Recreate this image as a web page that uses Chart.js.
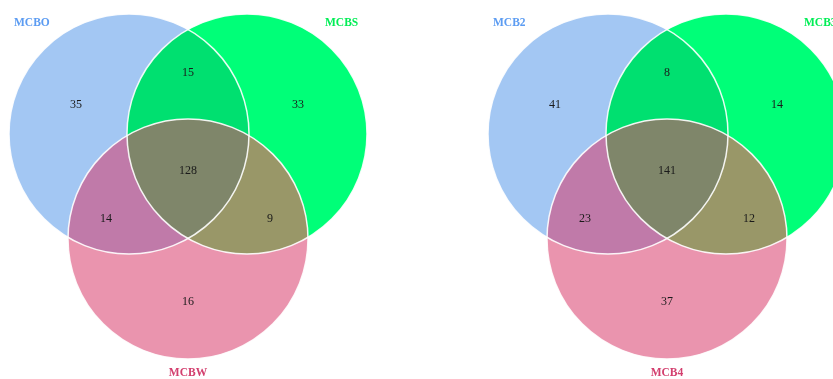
<!DOCTYPE html>
<html>
<head>
<meta charset="utf-8">
<script src="https://cdn.jsdelivr.net/npm/chart.js@4/dist/chart.umd.min.js"></script>
<style>
  html, body { margin: 0; padding: 0; background: #fff; }
  #wrap { width: 833px; height: 379px; }
</style>
</head>
<body>
<div id="wrap"><canvas id="venn"></canvas></div>
<script>
// set names for each three-way diagram
const leftSets = ["MCBO", "MCBS", "MCBW"];
const rightSets = ["MCB2", "MCB3", "MCB4"];

// region order: A only, B only, C only, A&B, A&C, B&C, A&B&C
const regionKeys = ["a", "b", "c", "ab", "ac", "bc", "abc"];
const leftCounts = [35, 33, 16, 15, 14, 9, 128];
const rightCounts = [41, 14, 37, 8, 23, 12, 141];

// diagram geometry, in axis units relative to each panel's middle
const panelX = [188, 667];
const circleR = 120;
const circles = {
  a: { dx: -59, y: 134 },
  b: { dx: 59, y: 134 },
  c: { dx: 0, y: 239 }
};
const anchors = {
  a: { dx: -112, y: 105 },
  b: { dx: 110, y: 105 },
  c: { dx: 0, y: 302 },
  ab: { dx: 0, y: 73 },
  ac: { dx: -82, y: 219 },
  bc: { dx: 82, y: 219 },
  abc: { dx: 0, y: 171 }
};
const nameSpots = [
  { dx: -174, y: 23, align: "left" },
  { dx: 137, y: 23, align: "left" },
  { dx: 0, y: 373, align: "center" }
];

const fills = {
  a: "#a3c7f3",
  b: "#00ff78",
  c: "#ea94ae",
  ab: "#00e070",
  ac: "#c07aa9",
  bc: "#999768",
  abc: "#7f866a"
};
const nameColors = ["#5c9cf2", "#00ee55", "#d3406f"];

const panels = [
  { sets: leftSets, counts: leftCounts },
  { sets: rightSets, counts: rightCounts }
];

function buildDataset(panel, i) {
  return {
    label: panel.sets.join(" / "),
    data: regionKeys.map((k, j) => ({
      x: panelX[i] + anchors[k].dx,
      y: anchors[k].y,
      v: panel.counts[j]
    })),
    pointRadius: 0,
    pointHoverRadius: 0
  };
}

function circlePath(ctx, c) {
  ctx.beginPath();
  ctx.arc(c.x, c.y, c.r, 0, Math.PI * 2);
}

function fillOverlap(ctx, list, color) {
  ctx.save();
  for (let n = 0; n < list.length - 1; n++) {
    circlePath(ctx, list[n]);
    ctx.clip();
  }
  circlePath(ctx, list[list.length - 1]);
  ctx.fillStyle = color;
  ctx.fill();
  ctx.restore();
}

const vennCircles = {
  id: "vennCircles",
  beforeDatasetsDraw(chart) {
    const { ctx, scales } = chart;
    const xs = scales.x, ys = scales.y;
    panelX.forEach(px => {
      const rPix = xs.getPixelForValue(px + circleR) - xs.getPixelForValue(px);
      const c = {};
      Object.keys(circles).forEach(k => {
        c[k] = {
          x: xs.getPixelForValue(px + circles[k].dx),
          y: ys.getPixelForValue(circles[k].y),
          r: rPix
        };
      });
      ctx.save();
      ["a", "b", "c"].forEach(k => {
        circlePath(ctx, c[k]);
        ctx.fillStyle = fills[k];
        ctx.fill();
      });
      fillOverlap(ctx, [c.a, c.b], fills.ab);
      fillOverlap(ctx, [c.a, c.c], fills.ac);
      fillOverlap(ctx, [c.b, c.c], fills.bc);
      fillOverlap(ctx, [c.a, c.b, c.c], fills.abc);
      ctx.lineWidth = 1.5;
      ctx.strokeStyle = "rgba(255,255,255,0.9)";
      ["a", "b", "c"].forEach(k => {
        circlePath(ctx, c[k]);
        ctx.stroke();
      });
      ctx.restore();
    });
  },
  afterDatasetsDraw(chart) {
    const { ctx, scales } = chart;
    ctx.save();
    ctx.textBaseline = "middle";
    // region counts
    ctx.font = "12px 'Liberation Serif', 'Times New Roman', serif";
    ctx.fillStyle = "#1a1a1a";
    ctx.textAlign = "center";
    chart.data.datasets.forEach((ds, i) => {
      const meta = chart.getDatasetMeta(i);
      meta.data.forEach((pt, j) => {
        ctx.fillText(String(ds.data[j].v), pt.x, pt.y);
      });
    });
    // set names
    ctx.font = "bold 11.5px 'Liberation Serif', 'Times New Roman', serif";
    panels.forEach((panel, i) => {
      panel.sets.forEach((name, k) => {
        const s = nameSpots[k];
        ctx.textAlign = s.align;
        ctx.fillStyle = nameColors[k];
        ctx.fillText(name,
          scales.x.getPixelForValue(panelX[i] + s.dx),
          scales.y.getPixelForValue(s.y));
      });
    });
    ctx.restore();
  }
};

new Chart(document.getElementById("venn"), {
  type: "scatter",
  data: { datasets: panels.map(buildDataset) },
  options: {
    responsive: true,
    maintainAspectRatio: false,
    animation: false,
    layout: { padding: 0 },
    plugins: {
      legend: { display: false },
      tooltip: { enabled: false }
    },
    scales: {
      x: { type: "linear", min: 0, max: 833, display: false },
      y: { type: "linear", min: 0, max: 379, reverse: true, display: false }
    }
  },
  plugins: [vennCircles]
});
</script>
</body>
</html>
